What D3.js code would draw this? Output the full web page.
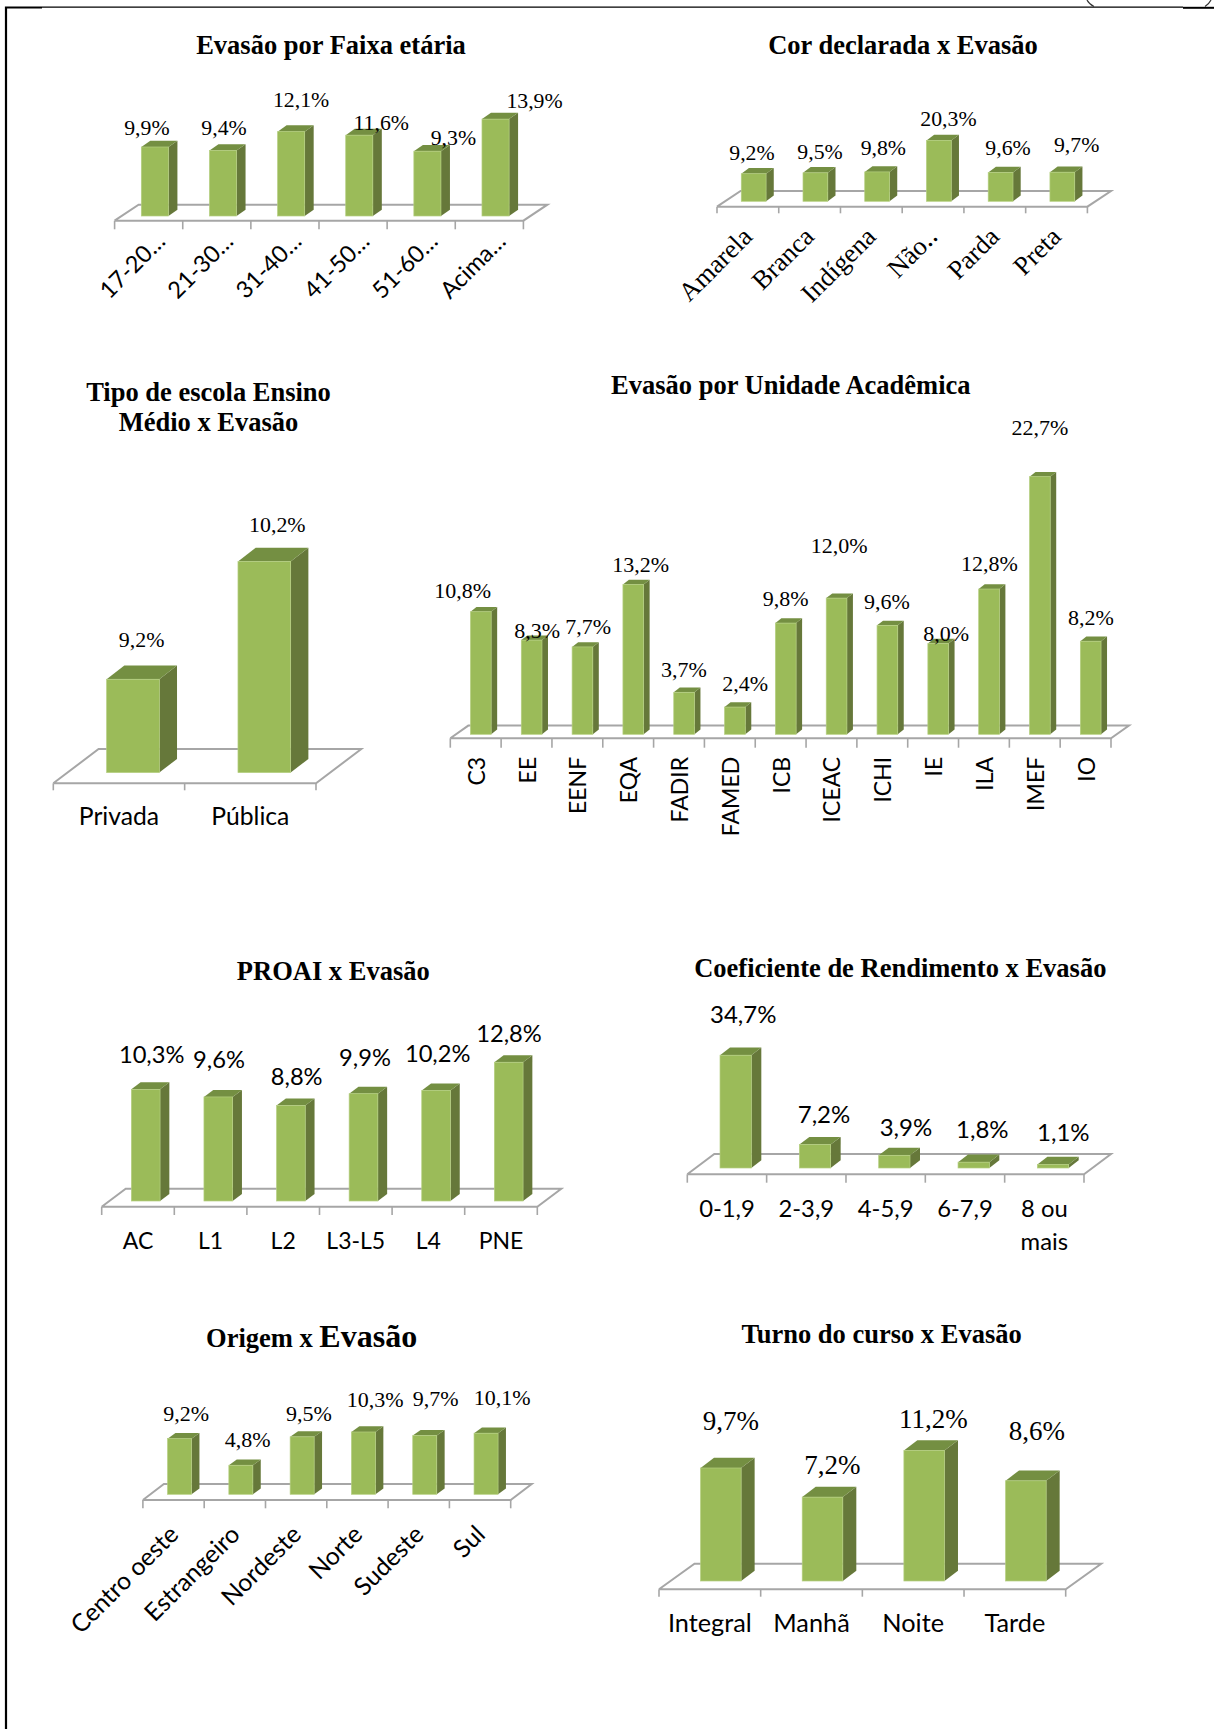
<!DOCTYPE html>
<html lang="pt">
<head>
<meta charset="utf-8">
<title>Evasão</title>
<script src="https://cdn.jsdelivr.net/npm/d3@7/dist/d3.min.js"></script>
<style>
html,body{margin:0;padding:0;background:#fff;}
svg{display:block;}
</style>
</head>
<body>
<div id="chart"></div>
<script>
// ---------- data ----------
const faixaCats = ["17-20…","21-30…","31-40…","41-50…","51-60…","Acima…"];
const faixaVals = [9.9,9.4,12.1,11.6,9.3,13.9];
const corCats = ["Amarela","Branca","Indígena","Não‥","Parda","Preta"];
const corVals = [9.2,9.5,9.8,20.3,9.6,9.7];
const escolaCats = ["Privada","Pública"];
const escolaVals = [9.2,10.2];
const unidadeCats = ["C3","EE","EENF","EQA","FADIR","FAMED","ICB","ICEAC","ICHI","IE","ILA","IMEF","IO"];
const unidadeVals = [10.8,8.3,7.7,13.2,3.7,2.4,9.8,12.0,9.6,8.0,12.8,22.7,8.2];
const proaiCats = ["AC","L1","L2","L3-L5","L4","PNE"];
const proaiVals = [10.3,9.6,8.8,9.9,10.2,12.8];
const coefCats = ["0-1,9","2-3,9","4-5,9","6-7,9","8 ou|mais"];
const coefVals = [34.7,7.2,3.9,1.8,1.1];
const origemCats = ["Centro oeste","Estrangeiro","Nordeste","Norte","Sudeste","Sul"];
const origemVals = [9.2,4.8,9.5,10.3,9.7,10.1];
const turnoCats = ["Integral","Manhã","Noite","Tarde"];
const turnoVals = [9.7,7.2,11.2,8.6];

// ---------- layout (page pixels) ----------
const SERIF = "'Liberation Serif',serif", SANS = "Lato,'Open Sans',sans-serif";
const panels = [
 {cats:faixaCats, vals:faixaVals, x0:114.6,x1:523.4,y0:220.7,ddx:24,ddy:16,tick:8.6,w:27.1,shift:6.2,lift:4.7,sdx:9,sdy:6.3,k:6.97,base:0,
  vf:SERIF,vs:21.8,ldx:[-8,1,10,22,26,39],ldy:[-12,-15.5,-25,-5,-6,-11],
  cf:SANS,cs:23.5,cmode:"rot45",cax:18,cay:22,
  title:["Evasão por Faixa etária"],tx:331,ty:[53.8],ts:26.5},
 {cats:corCats, vals:corVals, x0:717,x1:1087.4,y0:206.7,ddx:23.6,ddy:15.7,tick:6.6,w:24.8,shift:5.8,lift:5.4,sdx:7.7,sdy:5.7,k:3.0,base:0,
  vf:SERIF,vs:21.8,ldx:[-1.7,4.6,6.2,9.6,7.4,14.3],ldy:[-13.7,-14.1,-16.6,-14.4,-17.2,-20.5],
  cf:SERIF,cs:26.5,cmode:"rot45",cax:6,cay:31.5,
  title:["Cor declarada x Evasão"],tx:903,ty:[53.8],ts:26.5},
 {cats:escolaCats, vals:escolaVals, x0:53.3,x1:316,y0:783.3,ddx:45.3,ddy:34.3,tick:7,w:52.7,shift:14,lift:10.7,sdx:17.7,sdy:13.7,k:117.7,base:8.407,
  vf:SERIF,vs:21.9,ldx:[8.7,13],ldy:[-32,-30],
  cf:SANS,cs:24.7,cmode:"flat",cby:825.3,
  title:["Tipo de escola Ensino","Médio x Evasão"],tx:208.5,ty:[401,431],ts:26.5},
 {cats:unidadeCats, vals:unidadeVals, x0:450.3,x1:1111,y0:738.3,ddx:18,ddy:12.7,tick:9.4,w:20.7,shift:5.1,lift:4,sdx:6,sdy:4.7,k:11.35,base:0,
  vf:SERIF,vs:22,ldx:[-18.1,5.5,5.6,7.5,-0.1,10.2,-0.2,2.7,-0.5,8,0.3,0,0.2],ldy:[-13.4,-2.4,-12.6,-12.2,-15.6,-16.4,-17.1,-44.8,-16.6,-2.5,-18,-41.7,-16.2],
  cf:SANS,cs:23,cmode:"rot90",cty:756.8,
  title:["Evasão por Unidade Acadêmica"],tx:790.8,ty:[394.3],ts:26.5},
 {cats:proaiCats, vals:proaiVals, x0:101.7,x1:537.3,y0:1206.7,ddx:24,ddy:18,tick:8.3,w:28.7,shift:7.7,lift:5.7,sdx:9.3,sdy:7,k:10.84,base:0,
  vf:SANS,vs:23.7,ldx:[6,0.7,5.8,1.5,1.6,0.3],ldy:[-26,-29.2,-20.9,-28,-28.7,-19.9],
  cf:SANS,cs:23,cmode:"flat",cby:1248.7,
  title:["PROAI x Evasão"],tx:333.3,ty:[979.5],ts:26.5},
 {cats:coefCats, vals:coefVals, x0:687.3,x1:1084,y0:1174.3,ddx:27,ddy:20.3,tick:8.4,w:31.3,shift:8.7,lift:6.3,sdx:10,sdy:7.7,k:3.25,base:0,
  vf:SANS,vs:24,ldx:[7.6,9,11.6,8.6,10.3],ldy:[-32.5,-21.9,-19.3,-23.9,-23.7],
  cf:SANS,cs:23.8,cmode:"flat",cby:1216.8,clh:33.5,
  title:["Coeficiente de Rendimento x Evasão"],tx:900.3,ty:[977],ts:26.5},
 {cats:origemCats, vals:origemVals, x0:142.9,x1:510.7,y0:1500,ddx:21,ddy:16,tick:8.3,w:24,shift:6,lift:5.7,sdx:7.9,sdy:5.7,k:6.05,base:0,
  vf:SERIF,vs:22,ldx:[6.5,6.7,6.8,11.6,11,16.1],ldy:[-17.6,-18.6,-15.8,-25.3,-29.6,-28.2],
  cf:SANS,cs:24.7,cmode:"rot45",cax:6.5,cay:36,
  title:["Origem x "],titleBig:"Evasão",tx:311.6,ty:[1346.5],ts:26.5,tbs:32},
 {cats:turnoCats, vals:turnoVals, x0:659,x1:1065.7,y0:1589.3,ddx:35.5,ddy:25.6,tick:7.4,w:40.6,shift:11,lift:8.3,sdx:13.5,sdy:10.3,k:11.65,base:0,
  vf:SERIF,vs:27,ldx:[10.1,9.8,9.2,11],ldy:[-38,-23.1,-22.8,-40.8],
  cf:SANS,cs:25.3,cmode:"flat",cby:1632,
  title:["Turno do curso x Evasão"],tx:881.6,ty:[1342.6],ts:26.5}
];

const COL = {front:"#9BBB59", side:"#66783A", top:"#748F42", edge:"#B5CF80", floor:"#A6A6A6"};
const fmt = v => v.toFixed(1).replace(".", ",") + "%";

const svg = d3.select("#chart").append("svg").attr("width",1214).attr("height",1729);
svg.append("rect").attr("width",1214).attr("height",1729).attr("fill","#fff");

// page frame
const frame = svg.append("g").attr("fill","none").attr("stroke","#000");
frame.append("path").attr("d","M6,1729V7.5H42").attr("stroke-width",2.2);
frame.append("path").attr("d","M42,7.2H1183").attr("stroke-width",1.2);
frame.append("path").attr("d","M1183,7.8H1214").attr("stroke-width",2);
frame.append("path").attr("d","M1087,0Q1089,4 1094,6.5").attr("stroke","#333").attr("stroke-width",1.2);
frame.append("path").attr("d","M1211,0Q1209,4 1205,6.5").attr("stroke","#333").attr("stroke-width",1.2);

const line = d3.line();

panels.forEach(p => {
  const g = svg.append("g");
  const x = d3.scaleBand().domain(p.cats).range([p.x0,p.x1]);
  const bottom = p.y0 - p.lift;
  const y = d3.scaleLinear().domain([p.base,p.base+10]).range([bottom,bottom-10*p.k]);
  const band = x.bandwidth();

  // floor
  g.append("path")
    .attr("d",line([[p.x0,p.y0],[p.x0+p.ddx,p.y0-p.ddy],[p.x1+p.ddx,p.y0-p.ddy],[p.x1,p.y0],[p.x0,p.y0]]))
    .attr("fill","#fff").attr("stroke",COL.floor).attr("stroke-width",2);
  // ticks at the band edges
  const edges = p.cats.map(c=>x(c)).concat([p.x1]);
  g.selectAll("line.tick").data(edges).enter().append("line")
    .attr("x1",d=>d).attr("x2",d=>d).attr("y1",p.y0).attr("y2",p.y0+p.tick)
    .attr("stroke",COL.floor).attr("stroke-width",1.6);

  // bars
  const rows = p.cats.map((c,i)=>({c,v:p.vals[i],i}));
  const left = d => x(d.c)+band/2+p.shift-p.w/2;
  const bars = g.selectAll("g.bar").data(rows).enter().append("g");
  bars.append("path").attr("fill",COL.side)
    .attr("d",d=>{const r=left(d)+p.w,t=y(d.v);return line([[r,t],[r+p.sdx,t-p.sdy],[r+p.sdx,bottom-p.sdy],[r,bottom]])+"Z";});
  bars.append("path").attr("fill",COL.top)
    .attr("d",d=>{const l=left(d),t=y(d.v);return line([[l,t],[l+p.sdx,t-p.sdy],[l+p.w+p.sdx,t-p.sdy],[l+p.w,t]])+"Z";});
  bars.append("rect").attr("fill",COL.front).attr("stroke",COL.edge).attr("stroke-width",0.7)
    .attr("x",left).attr("y",d=>y(d.v)).attr("width",p.w).attr("height",d=>bottom-y(d.v));

  // value labels
  g.selectAll("text.val").data(rows).enter().append("text")
    .attr("x",d=>left(d)+p.w/2+p.ldx[d.i]).attr("y",d=>y(d.v)+p.ldy[d.i])
    .attr("text-anchor","middle").attr("fill","#000")
    .style("font-family",p.vf).style("font-size",p.vs+"px").text(d=>fmt(d.v));

  // category labels
  const labels = g.selectAll("text.cat").data(rows).enter().append("text")
    .attr("fill","#000").style("font-family",p.cf).style("font-size",p.cs+"px");
  const cx = d => x(d.c)+band/2;
  if (p.cmode==="flat") {
    labels.attr("text-anchor","middle").each(function(d){
      const t=d3.select(this);
      d.c.split("|").forEach((s,j)=>t.append("tspan").attr("x",cx(d)).attr("y",p.cby+j*(p.clh||0)).text(s));
    });
  } else if (p.cmode==="rot90") {
    labels.attr("text-anchor","end")
      .attr("transform",d=>`translate(${cx(d)+9},${p.cty}) rotate(-90)`).text(d=>d.c);
  } else {
    labels.attr("text-anchor","end")
      .attr("transform",d=>`translate(${cx(d)+p.cax},${p.y0+p.cay}) rotate(-45)`).text(d=>d.c);
  }

  // title
  p.title.forEach((s,j)=>{
    const t=g.append("text").attr("x",p.tx).attr("y",p.ty[j]).attr("text-anchor","middle")
      .attr("fill","#000").style("font-family",SERIF).style("font-weight","bold").style("font-size",p.ts+"px");
    t.append("tspan").text(s);
    if(p.titleBig) t.append("tspan").style("font-size",p.tbs+"px").text(p.titleBig);
  });
});
</script>
</body>
</html>
